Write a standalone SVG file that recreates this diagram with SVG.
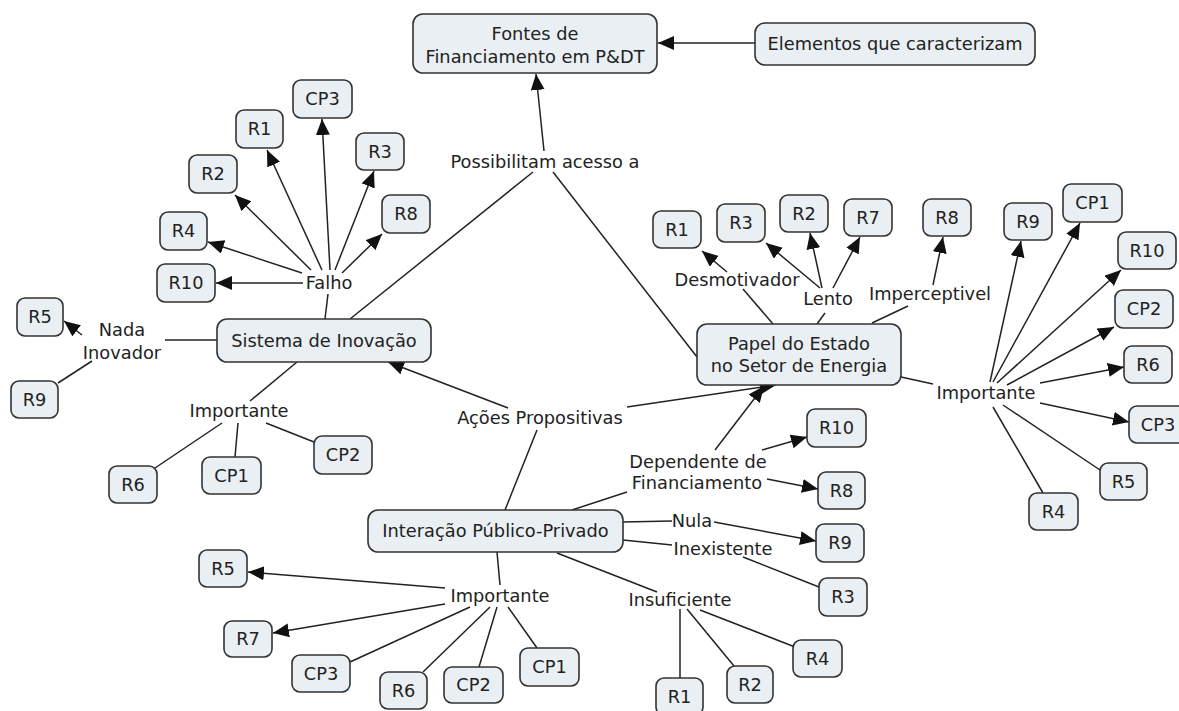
<svg xmlns="http://www.w3.org/2000/svg" width="1179" height="711" viewBox="0 0 1179 711">
<style>
rect.n{fill:#e9eff2;stroke:#333;stroke-width:1.6}
text{font-family:"DejaVu Sans",Verdana,sans-serif;font-size:17.8px;fill:#222;text-anchor:middle}
#connectors line{stroke:#222;stroke-width:1.5;fill:none}
#connectors line.a{marker-end:url(#ah)}
</style>
<defs>
<marker id="ah" markerUnits="userSpaceOnUse" markerWidth="17" markerHeight="15" refX="16" refY="7" orient="auto"><path d="M0,0 L16,7 L0,14 z" fill="#111"/></marker>
</defs>
<rect width="1179" height="711" fill="#fff"/>
<g id="connectors">
<line x1="325" y1="319" x2="328" y2="294"/>
<line x1="350" y1="319" x2="533" y2="172"/>
<line x1="697" y1="357" x2="553" y2="172"/>
<line x1="217" y1="340" x2="165" y2="340"/>
<line x1="92" y1="361" x2="58" y2="383"/>
<line x1="297" y1="362" x2="250" y2="401"/>
<line x1="222" y1="423" x2="155" y2="468"/>
<line x1="238" y1="423" x2="235" y2="457"/>
<line x1="266" y1="423" x2="314" y2="442"/>
<line x1="505" y1="510" x2="537" y2="430"/>
<line x1="572" y1="510" x2="627" y2="492"/>
<line x1="623" y1="522" x2="672" y2="521"/>
<line x1="623" y1="540" x2="672" y2="545"/>
<line x1="743" y1="557" x2="819" y2="587"/>
<line x1="557" y1="553" x2="657" y2="592"/>
<line x1="680" y1="609" x2="680" y2="678"/>
<line x1="687" y1="609" x2="734" y2="666"/>
<line x1="700" y1="610" x2="795" y2="647"/>
<line x1="497" y1="552" x2="500" y2="585"/>
<line x1="470" y1="607" x2="350" y2="662"/>
<line x1="490" y1="607" x2="423" y2="672"/>
<line x1="497" y1="607" x2="479" y2="667"/>
<line x1="508" y1="607" x2="537" y2="648"/>
<line x1="773" y1="324" x2="743" y2="289"/>
<line x1="817" y1="324" x2="825" y2="313"/>
<line x1="872" y1="323" x2="908" y2="306"/>
<line x1="901" y1="377" x2="933" y2="384"/>
<line x1="1003" y1="405" x2="1100" y2="470"/>
<line x1="993" y1="407" x2="1043" y2="493"/>
<line class="a" x1="755" y1="43" x2="658" y2="43"/>
<line class="a" x1="544" y1="151" x2="536" y2="74"/>
<line class="a" x1="303" y1="283" x2="216" y2="283"/>
<line class="a" x1="302" y1="273" x2="208" y2="242"/>
<line class="a" x1="311" y1="270" x2="235" y2="195"/>
<line class="a" x1="322" y1="270" x2="267" y2="150"/>
<line class="a" x1="330" y1="270" x2="322" y2="119"/>
<line class="a" x1="335" y1="270" x2="374" y2="171"/>
<line class="a" x1="342" y1="273" x2="382" y2="234"/>
<line class="a" x1="82" y1="335" x2="64" y2="321"/>
<line class="a" x1="508" y1="408" x2="388" y2="362"/>
<line class="a" x1="627" y1="407" x2="776" y2="385"/>
<line class="a" x1="715" y1="450" x2="764" y2="386"/>
<line class="a" x1="762" y1="450" x2="807" y2="437"/>
<line class="a" x1="767" y1="479" x2="818" y2="489"/>
<line class="a" x1="714" y1="522" x2="816" y2="541"/>
<line class="a" x1="445" y1="588" x2="248" y2="572"/>
<line class="a" x1="445" y1="604" x2="273" y2="633"/>
<line class="a" x1="727" y1="272" x2="702" y2="251"/>
<line class="a" x1="820" y1="288" x2="766" y2="243"/>
<line class="a" x1="822" y1="288" x2="810" y2="233"/>
<line class="a" x1="833" y1="288" x2="860" y2="237"/>
<line class="a" x1="933" y1="285" x2="943" y2="237"/>
<line class="a" x1="990" y1="382" x2="1021" y2="241"/>
<line class="a" x1="993" y1="382" x2="1080" y2="223"/>
<line class="a" x1="997" y1="383" x2="1121" y2="270"/>
<line class="a" x1="1007" y1="385" x2="1114" y2="327"/>
<line class="a" x1="1040" y1="383" x2="1124" y2="367"/>
<line class="a" x1="1040" y1="403" x2="1129" y2="422"/>
</g>
<g id="labels">
<text x="545" y="168">Possibilitam acesso a</text>
<text x="329" y="289">Falho</text>
<text x="122" y="336">Nada</text>
<text x="122" y="359">Inovador</text>
<text x="239" y="417">Importante</text>
<text x="540" y="424">Ações Propositivas</text>
<text x="698" y="468">Dependente de</text>
<text x="697" y="489">Financiamento</text>
<text x="692" y="527">Nula</text>
<text x="723" y="555">Inexistente</text>
<text x="680" y="606">Insuficiente</text>
<text x="500" y="602">Importante</text>
<text x="737" y="286">Desmotivador</text>
<text x="828" y="305">Lento</text>
<text x="930" y="300">Imperceptivel</text>
<text x="986" y="399">Importante</text>
</g>
<g id="fontes"><rect class="n" x="413" y="14" width="244" height="59" rx="10"/><text x="535" y="40">Fontes de</text><text x="535" y="63">Financiamento em P&amp;DT</text></g>
<g id="elementos"><rect class="n" x="755" y="23" width="280" height="42" rx="10"/><text x="895" y="50">Elementos que caracterizam</text></g>
<g id="sistema"><rect class="n" x="217" y="319" width="214" height="43" rx="10"/><text x="324" y="347">Sistema de Inovação</text></g>
<g id="papel"><rect class="n" x="697" y="324" width="204" height="61" rx="10"/><text x="799" y="350">Papel do Estado</text><text x="799" y="372">no Setor de Energia</text></g>
<g id="interacao"><rect class="n" x="368" y="510" width="255" height="42" rx="10"/><text x="495.5" y="537">Interação Público-Privado</text></g>
<g id="f-CP3"><rect class="n" x="293" y="80" width="59" height="38" rx="8"/><text x="322.5" y="105">CP3</text></g>
<g id="f-R1"><rect class="n" x="236" y="110" width="47" height="38" rx="8"/><text x="259.5" y="135">R1</text></g>
<g id="f-R2"><rect class="n" x="189" y="155" width="48" height="38" rx="8"/><text x="213" y="180">R2</text></g>
<g id="f-R3"><rect class="n" x="356" y="133" width="48" height="37" rx="8"/><text x="380" y="157.5">R3</text></g>
<g id="f-R8"><rect class="n" x="382" y="195" width="48" height="38" rx="8"/><text x="406" y="220">R8</text></g>
<g id="f-R4"><rect class="n" x="160" y="212" width="47" height="38" rx="8"/><text x="183.5" y="237">R4</text></g>
<g id="f-R10"><rect class="n" x="157" y="264" width="58" height="38" rx="8"/><text x="186" y="289">R10</text></g>
<g id="n-R5"><rect class="n" x="17" y="298" width="46" height="38" rx="8"/><text x="40" y="323">R5</text></g>
<g id="n-R9"><rect class="n" x="11" y="381" width="47" height="37" rx="8"/><text x="34.5" y="405.5">R9</text></g>
<g id="s-R6"><rect class="n" x="109" y="466" width="48" height="37" rx="8"/><text x="133" y="490.5">R6</text></g>
<g id="s-CP1"><rect class="n" x="202" y="457" width="59" height="37" rx="8"/><text x="231.5" y="481.5">CP1</text></g>
<g id="s-CP2"><rect class="n" x="314" y="436" width="58" height="38" rx="8"/><text x="343" y="461">CP2</text></g>
<g id="i-R5"><rect class="n" x="199" y="550" width="48" height="37" rx="8"/><text x="223" y="574.5">R5</text></g>
<g id="i-R7"><rect class="n" x="224" y="621" width="48" height="36" rx="8"/><text x="248" y="645">R7</text></g>
<g id="i-CP3"><rect class="n" x="292" y="655" width="58" height="37" rx="8"/><text x="321" y="679.5">CP3</text></g>
<g id="i-R6"><rect class="n" x="380" y="672" width="47" height="37" rx="8"/><text x="403.5" y="696.5">R6</text></g>
<g id="i-CP2"><rect class="n" x="444" y="667" width="59" height="36" rx="8"/><text x="473.5" y="691">CP2</text></g>
<g id="i-CP1"><rect class="n" x="520" y="648" width="59" height="38" rx="8"/><text x="549.5" y="673">CP1</text></g>
<g id="ins-R1"><rect class="n" x="656" y="678" width="47" height="37" rx="8"/><text x="679.5" y="702.5">R1</text></g>
<g id="ins-R2"><rect class="n" x="727" y="666" width="46" height="37" rx="8"/><text x="750" y="690.5">R2</text></g>
<g id="ins-R4"><rect class="n" x="793" y="640" width="49" height="37" rx="8"/><text x="817.5" y="664.5">R4</text></g>
<g id="inx-R3"><rect class="n" x="819" y="578" width="48" height="38" rx="8"/><text x="843" y="603">R3</text></g>
<g id="nul-R9"><rect class="n" x="816" y="524" width="48" height="38" rx="8"/><text x="840" y="549">R9</text></g>
<g id="dep-R8"><rect class="n" x="818" y="472" width="47" height="37" rx="8"/><text x="841.5" y="496.5">R8</text></g>
<g id="dep-R10"><rect class="n" x="807" y="409" width="59" height="38" rx="8"/><text x="836.5" y="434">R10</text></g>
<g id="p-R1"><rect class="n" x="653" y="211" width="48" height="37" rx="8"/><text x="677" y="235.5">R1</text></g>
<g id="p-R3"><rect class="n" x="717" y="204" width="48" height="38" rx="8"/><text x="741" y="229">R3</text></g>
<g id="p-R2"><rect class="n" x="780" y="195" width="48" height="37" rx="8"/><text x="804" y="219.5">R2</text></g>
<g id="p-R7"><rect class="n" x="844" y="199" width="48" height="37" rx="8"/><text x="868" y="223.5">R7</text></g>
<g id="p-R8"><rect class="n" x="923" y="199" width="48" height="37" rx="8"/><text x="947" y="223.5">R8</text></g>
<g id="e-R9"><rect class="n" x="1004" y="203" width="48" height="37" rx="8"/><text x="1028" y="227.5">R9</text></g>
<g id="e-CP1"><rect class="n" x="1063" y="184" width="59" height="38" rx="8"/><text x="1092.5" y="209">CP1</text></g>
<g id="e-R10"><rect class="n" x="1118" y="232" width="58" height="37" rx="8"/><text x="1147" y="256.5">R10</text></g>
<g id="e-CP2"><rect class="n" x="1115" y="290" width="58" height="38" rx="8"/><text x="1144" y="315">CP2</text></g>
<g id="e-R6"><rect class="n" x="1124" y="346" width="48" height="37" rx="8"/><text x="1148" y="370.5">R6</text></g>
<g id="e-CP3"><rect class="n" x="1129" y="406" width="59" height="37" rx="8"/><text x="1158" y="430.5">CP3</text></g>
<g id="e-R5"><rect class="n" x="1100" y="463" width="47" height="37" rx="8"/><text x="1123.5" y="487.5">R5</text></g>
<g id="e-R4"><rect class="n" x="1029" y="493" width="49" height="37" rx="8"/><text x="1053.5" y="517.5">R4</text></g>
</svg>
